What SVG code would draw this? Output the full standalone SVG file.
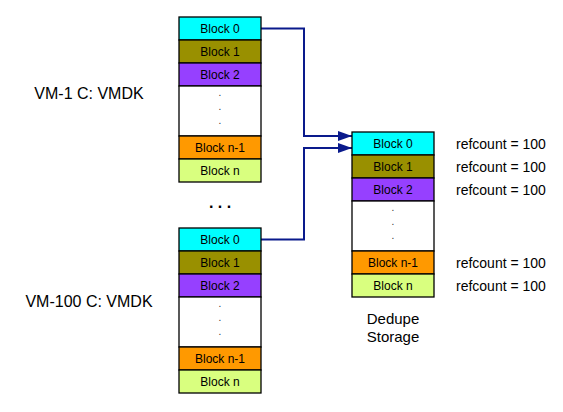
<svg xmlns="http://www.w3.org/2000/svg" width="563" height="412" viewBox="0 0 563 412">
<defs>
<style>
.b{stroke:#000;stroke-width:1.3}
.c0{fill:#00ffff}.c1{fill:#999000}.c2{fill:#9640ff}.cw{fill:#fff}.cn1{fill:#ff9900}.cn{fill:#d9ff7f}
.t{font-family:"Liberation Sans",Arial,sans-serif;font-size:12px;text-anchor:middle;fill:#000}
.dot{font-family:"Liberation Sans",Arial,sans-serif;font-size:10px;text-anchor:middle;fill:#333}
.lbl{font-family:"Liberation Sans",Arial,sans-serif;font-size:16px;text-anchor:middle;fill:#000}
.ref{font-family:"Liberation Sans",Arial,sans-serif;font-size:14px;fill:#000}
.ds{font-family:"Liberation Sans",Arial,sans-serif;font-size:15px;text-anchor:middle;fill:#000}
.cn-line{fill:none;stroke:#0a1a8c;stroke-width:2}
</style>
<marker id="ah" viewBox="0 0 14 10" refX="14" refY="5" markerWidth="14" markerHeight="10" markerUnits="userSpaceOnUse" orient="auto">
<path d="M0,0 L14,5 L0,10 z" fill="#0a1a8c"/>
</marker>
<g id="stack">
<rect class="b c0" x="0" y="0" width="82" height="23"/>
<rect class="b c1" x="0" y="23" width="82" height="23"/>
<rect class="b c2" x="0" y="46" width="82" height="23"/>
<rect class="b cw" x="0" y="69" width="82" height="50"/>
<rect class="b cn1" x="0" y="119" width="82" height="23"/>
<rect class="b cn" x="0" y="142" width="82" height="23"/>
<text class="t" x="41" y="16">Block 0</text>
<text class="t" x="41" y="39">Block 1</text>
<text class="t" x="41" y="62">Block 2</text>
<text class="dot" x="41" y="79">.</text>
<text class="dot" x="41" y="93">.</text>
<text class="dot" x="41" y="107">.</text>
<text class="t" x="41" y="135">Block n-1</text>
<text class="t" x="41" y="158">Block n</text>
</g>
</defs>
<rect width="563" height="412" fill="#fff"/>
<g id="connectors">
<path class="cn-line" d="M261,28.5 H304 V136 H352" marker-end="url(#ah)"/>
<path class="cn-line" d="M261,239.5 H304 V148 H352" marker-end="url(#ah)"/>
</g>
<g id="vm1">
<use href="#stack" x="179" y="17"/>
<text class="lbl" x="89" y="99">VM-1 C: VMDK</text>
</g>
<g id="ellipsis">
<text class="lbl" x="220" y="208" font-weight="bold">. . .</text>
</g>
<g id="vm100">
<use href="#stack" x="179" y="228"/>
<text class="lbl" x="89" y="307">VM-100 C: VMDK</text>
</g>
<g id="dedupe">
<use href="#stack" x="352" y="132"/>
<text class="ds" x="393" y="324">Dedupe</text>
<text class="ds" x="393" y="342">Storage</text>
</g>
<g id="refcounts">
<text class="ref" x="456" y="148.5">refcount = 100</text>
<text class="ref" x="456" y="171.5">refcount = 100</text>
<text class="ref" x="456" y="194.5">refcount = 100</text>
<text class="ref" x="456" y="267.5">refcount = 100</text>
<text class="ref" x="456" y="290.5">refcount = 100</text>
</g>
</svg>
